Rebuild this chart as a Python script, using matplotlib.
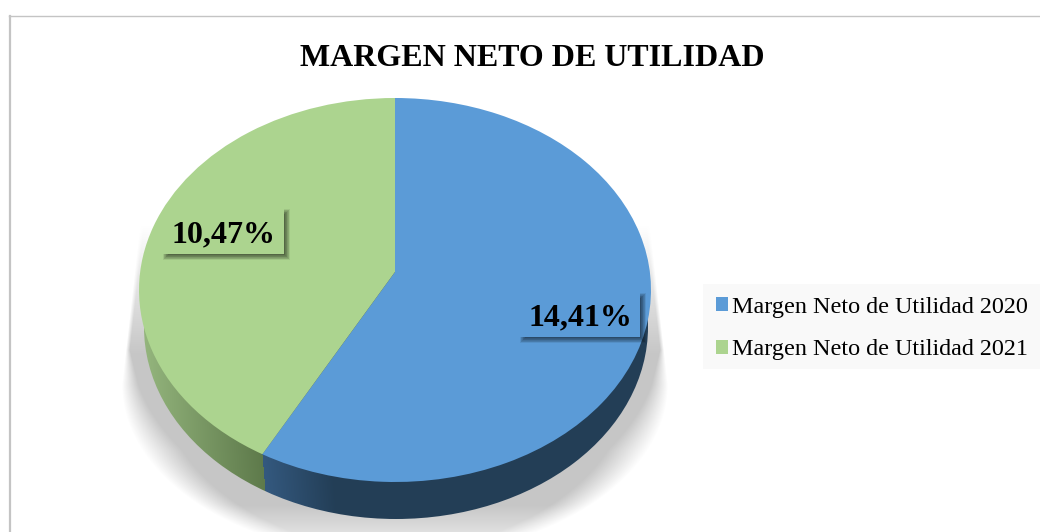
import matplotlib
matplotlib.use("Agg")
import matplotlib.pyplot as plt
import numpy as np
from matplotlib.colors import to_rgb
from matplotlib.patches import Ellipse, Rectangle
from matplotlib.transforms import Transform

# datos del grafico
title = "MARGEN NETO DE UTILIDAD"
labels = ["Margen Neto de Utilidad 2020", "Margen Neto de Utilidad 2021"]
values = [14.41, 10.47]
value_labels = ["14,41%", "10,47%"]
colors = ["#5b9bd7", "#acd48f"]

W, H = 1040, 532
FONT = "Liberation Serif"

# disco visto en perspectiva: (cx, cy, rx, ry) en pixeles
TOP = (395, 290, 256, 192)
LOW = (396, 327, 252, 192)
TILT = 0.094


def project(xy, disc):
    # homografia que deja el circulo unidad en si mismo y corre el centro
    x, y = xy[:, 0], xy[:, 1]
    w = 1 + TILT * y
    px = x * np.sqrt(1 - TILT ** 2) / w
    py = (y + TILT) / w
    return np.column_stack([disc[0] + disc[2] * px, disc[1] - disc[3] * py])


class Persp(Transform):
    input_dims = 2
    output_dims = 2

    def __init__(self, disc):
        super().__init__()
        self.disc = disc

    def transform_non_affine(self, values):
        return project(np.asarray(values, float), self.disc)


fig = plt.figure(figsize=(W / 100, H / 100), dpi=100, facecolor="white")
ax = fig.add_axes([0, 0, 1, 1])

# sombra difusa detras de la torta
xx, yy = np.meshgrid(np.arange(W) + 0.5, np.arange(H) + 0.5)
half = np.where(yy < 385, 273 - (385 - yy) * 0.113,
                273 * np.sqrt(np.clip(1 - ((yy - 385) / 172) ** 2, 0, 1)))
soft = 4 + 36 * np.clip((yy - 350) / 100, 0, 1)
edge = np.clip((half - np.abs(xx - 395)) / soft, 0, 1)
below = np.clip((565 - yy) / 60, 0, 1)
fade = np.clip((yy - 225) / 130, 0, 1)
shadow = np.zeros((H, W, 4))
shadow[..., :3] = 0.78
shadow[..., 3] = edge * below * fade
ax.imshow(shadow, extent=(0, W, H, 0), zorder=1, aspect="auto")

# porciones de la cara superior
wedges, _ = ax.pie(values, colors=colors, startangle=90, counterclock=False)
for w in wedges:
    w.set_transform(Persp(TOP) + ax.transData)
    w.set_zorder(3)
    w.set_linewidth(0)

# pared lateral: degradado horizontal recortado con el disco inferior
ang = np.deg2rad(wedges[0].theta1)
split = np.array([[np.cos(ang), np.sin(ang)]])
sx0, sy0 = project(split, TOP)[0]
sx1, sy1 = project(split, LOW)[0]
xs = sx0 + (yy - sy0) * (sx1 - sx0) / (sy1 - sy0)
t = np.clip((xx - 147) / (xs - 147), 0, 1)[..., None]
green = (1 - t) * np.array(to_rgb("#93b47c")) + t * np.array(to_rgb("#5e7a4b"))
t = np.clip((xx - xs) / 70, 0, 1)[..., None]
blue = (1 - t) * np.array(to_rgb("#34597f")) + t * np.array(to_rgb("#233e56"))
wall = np.where((xx < xs)[..., None], green, blue)
im = ax.imshow(wall, extent=(0, W, H, 0), zorder=2, aspect="auto")
im.set_clip_path(Ellipse((LOW[0], LOW[1]), 2 * LOW[2], 2 * LOW[3], transform=ax.transData))

# etiquetas con caja y sombra
boxes = [(520, 293, 120, 44), (163, 209, 121, 45)]
for (bx, by, bw, bh), txt, col in zip(boxes, value_labels, colors):
    for grow in np.linspace(3, -3, 10):
        ax.add_patch(Rectangle((bx + 3 - grow, by + 3 - grow), bw + 2 * grow, bh + 2 * grow,
                               fc="black", ec="none", alpha=0.075, zorder=4))
    ax.add_patch(Rectangle((bx, by), bw, bh, fc=col, ec="none", zorder=5))
    ax.text(bx + bw / 2, by + bh / 2 + 3, txt, family=FONT, weight="bold", fontsize=23,
            ha="center", va="center", color="black", zorder=6)

ax.text(532, 58, title, family=FONT, weight="bold", fontsize=23, ha="center", va="center", color="black")

# marco del grafico
ax.plot([10, 10], [H, 15.5], color="#c4c4c4", lw=1.6, zorder=7)
ax.plot([9, W], [15.5, 15.5], color="#c4c4c4", lw=1, zorder=7)

# fondo de la leyenda
ax.add_patch(Rectangle((703, 284), 337, 85, fc="#f9f9f9", ec="none", zorder=1))

ax.set_aspect("auto")
ax.set_xlim(0, W)
ax.set_ylim(H, 0)
ax.axis("off")

leg = fig.legend(wedges, labels, loc="upper left", bbox_to_anchor=(703 / W, 1 - 284 / H), bbox_transform=fig.transFigure,
                 frameon=False, prop={"family": FONT, "size": 17.4}, handlelength=0.5, handleheight=0.5,
                 handletextpad=0.2, labelspacing=0.9, borderpad=0.52, borderaxespad=0)

fig.savefig("out.png", dpi=100)
plt.close(fig)
